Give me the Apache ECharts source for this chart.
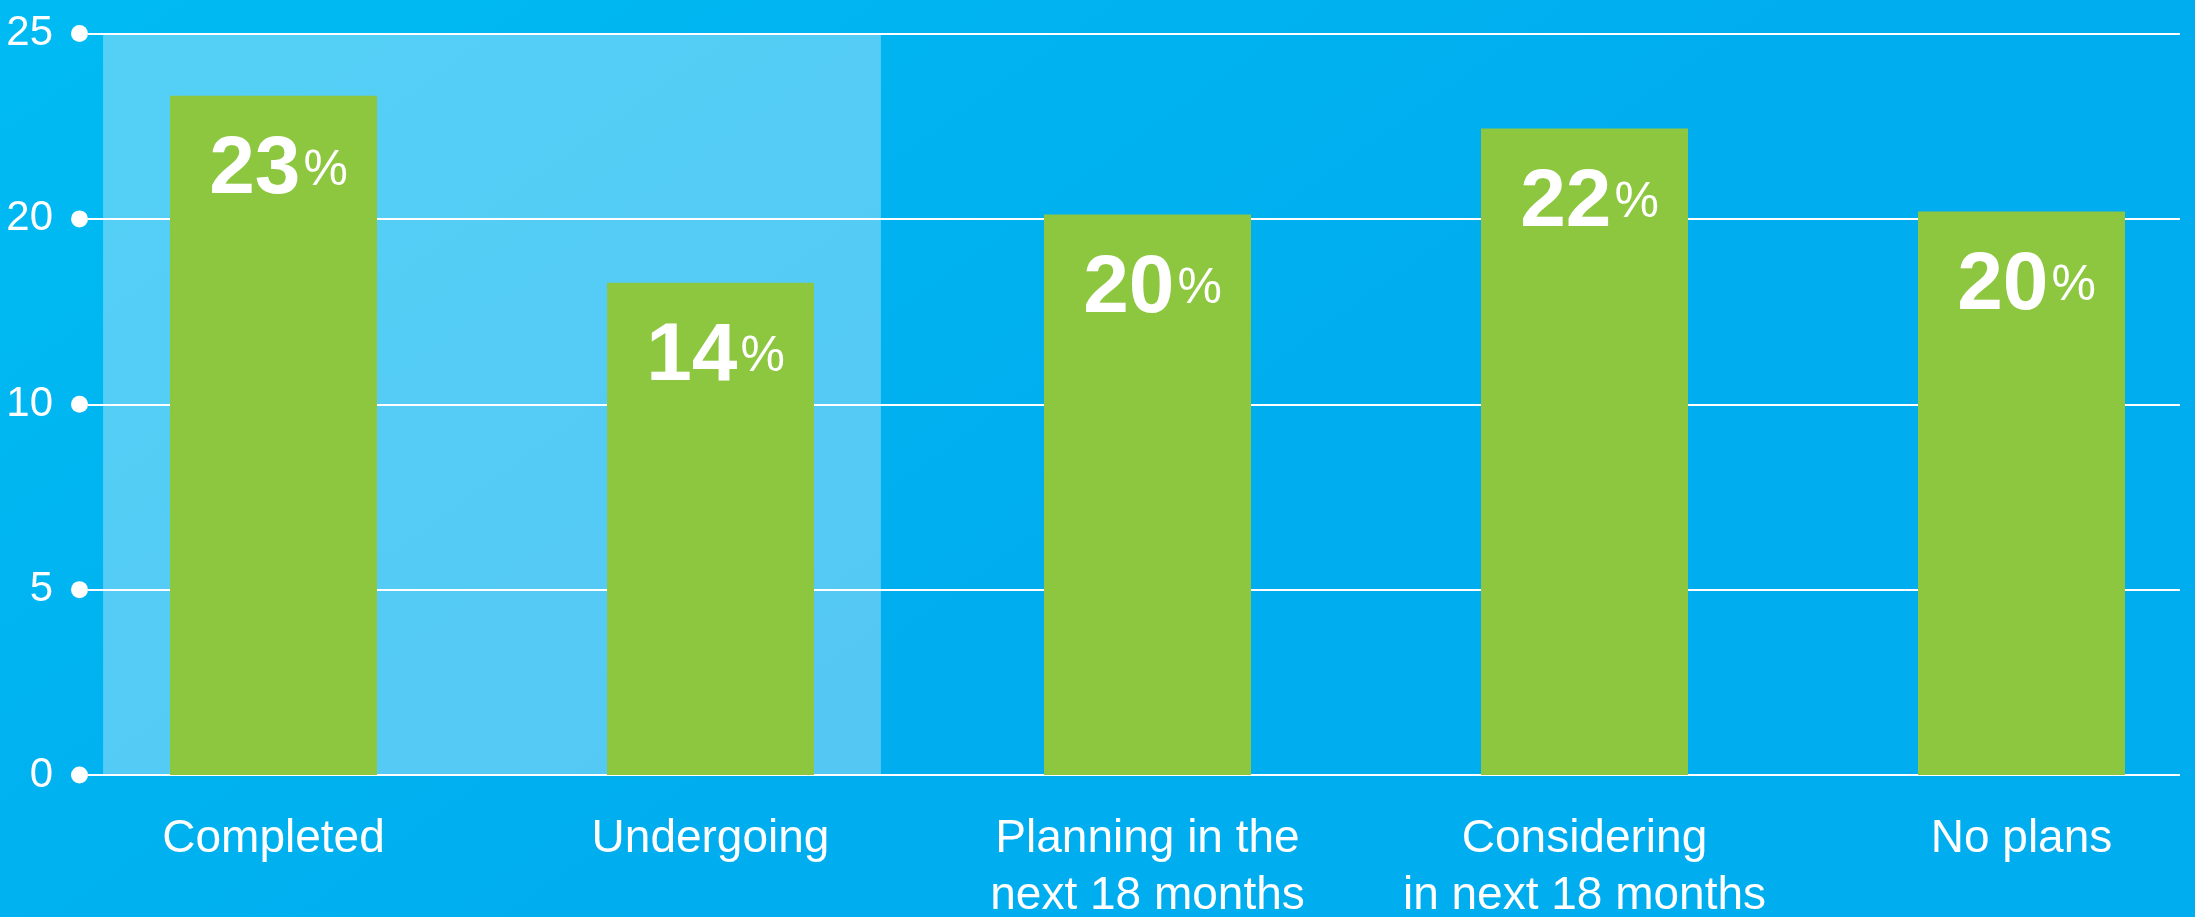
<!DOCTYPE html>
<html>
<head>
<meta charset="utf-8">
<script src="https://cdn.jsdelivr.net/npm/echarts@6/dist/echarts.min.js"></script>
<style>
html,body{margin:0;padding:0;width:2195px;height:917px;overflow:hidden;}
#c{width:2195px;height:917px;}
</style>
</head>
<body>
<div id="c"></div>
<script>
// ---- data ----
const categories = ['Completed', 'Undergoing', 'Planning in the\nnext 18 months', 'Considering\nin next 18 months', 'No plans'];
const percentLabels = [23, 14, 20, 22, 20];           // printed values on bars
const barHeights = [22.9, 16.6, 18.9, 21.8, 19.0];     // drawn bar heights (axis units, top tick = 25)
const yTickLabels = ['0', '5', '10', '20', '25'];      // evenly spaced tick labels as printed
const highlightSpan = [0.11, 1.89];                     // light panel behind first two categories (category units)

const Y_MAX = 25;
const Y_STEP = Y_MAX / (yTickLabels.length - 1);
const FONT = '"Liberation Sans", Arial, Helvetica, sans-serif';

const chart = echarts.init(document.getElementById('c'), null, {renderer: 'canvas'});

chart.setOption({
  animation: false,
  backgroundColor: {
    type: 'linear', x: 0, y: 0, x2: 0.3, y2: 1,
    colorStops: [{offset: 0, color: '#00bbf3'}, {offset: 1, color: '#00adee'}]
  },
  grid: [
    {left: 88, right: 15, top: 33.5, bottom: 142, containLabel: false, outerBoundsMode: 'none'},
    {left: 55, width: 2185, top: 33.5, bottom: 142, containLabel: false, outerBoundsMode: 'none'}
  ],
  xAxis: [
    {gridIndex: 0, type: 'value', show: false, min: 0, max: 1},
    {
      gridIndex: 1, type: 'category', data: categories,
      axisLine: {show: false}, axisTick: {show: false},
      axisLabel: {
        color: '#ffffff', fontFamily: FONT, fontSize: 46, lineHeight: 57,
        margin: 36, interval: 0
      }
    },
    {gridIndex: 1, type: 'value', show: false, min: 0, max: categories.length}
  ],
  yAxis: [
    {
      gridIndex: 0, type: 'value', min: 0, max: Y_MAX, interval: Y_STEP,
      axisLine: {show: false}, axisTick: {show: false},
      splitLine: {show: true, lineStyle: {color: '#ffffff', width: 2}},
      axisLabel: {
        margin: 0,
        formatter: function (v) {
          const i = Math.round(v / Y_STEP);
          return '{t|' + yTickLabels[i] + '}{d| }';
        },
        rich: {
          t: {color: '#ffffff', fontFamily: FONT, fontSize: 42, padding: [0, 18, 0, 0]},
          d: {width: 17, height: 17, borderRadius: 8.5, backgroundColor: '#ffffff'}
        }
      }
    },
    {gridIndex: 1, type: 'value', show: false, min: 0, max: Y_MAX}
  ],
  series: [
    {
      type: 'line', xAxisIndex: 2, yAxisIndex: 1, data: [], z: 1, silent: true,
      markArea: {
        silent: true,
        itemStyle: {color: 'rgba(255,255,255,0.33)'},
        data: [[{xAxis: highlightSpan[0], yAxis: 0}, {xAxis: highlightSpan[1], yAxis: Y_MAX}]]
      }
    },
    {
      type: 'bar', xAxisIndex: 1, yAxisIndex: 1, z: 3,
      barWidth: 207,
      data: barHeights,
      itemStyle: {color: '#8dc63f'},
      label: {
        show: true, position: 'insideTop', distance: 35, offset: [5, 0],
        formatter: function (p) { return '{a|' + percentLabels[p.dataIndex] + '}{b|%}'; },
        rich: {
          a: {color: '#ffffff', fontFamily: FONT, fontWeight: 'bold', fontSize: 82, lineHeight: 80},
          b: {color: '#ffffff', fontFamily: FONT, fontWeight: 'normal', fontSize: 50, lineHeight: 80, padding: [0, 0, 0, 3]}
        }
      }
    }
  ]
});
</script>
</body>
</html>
